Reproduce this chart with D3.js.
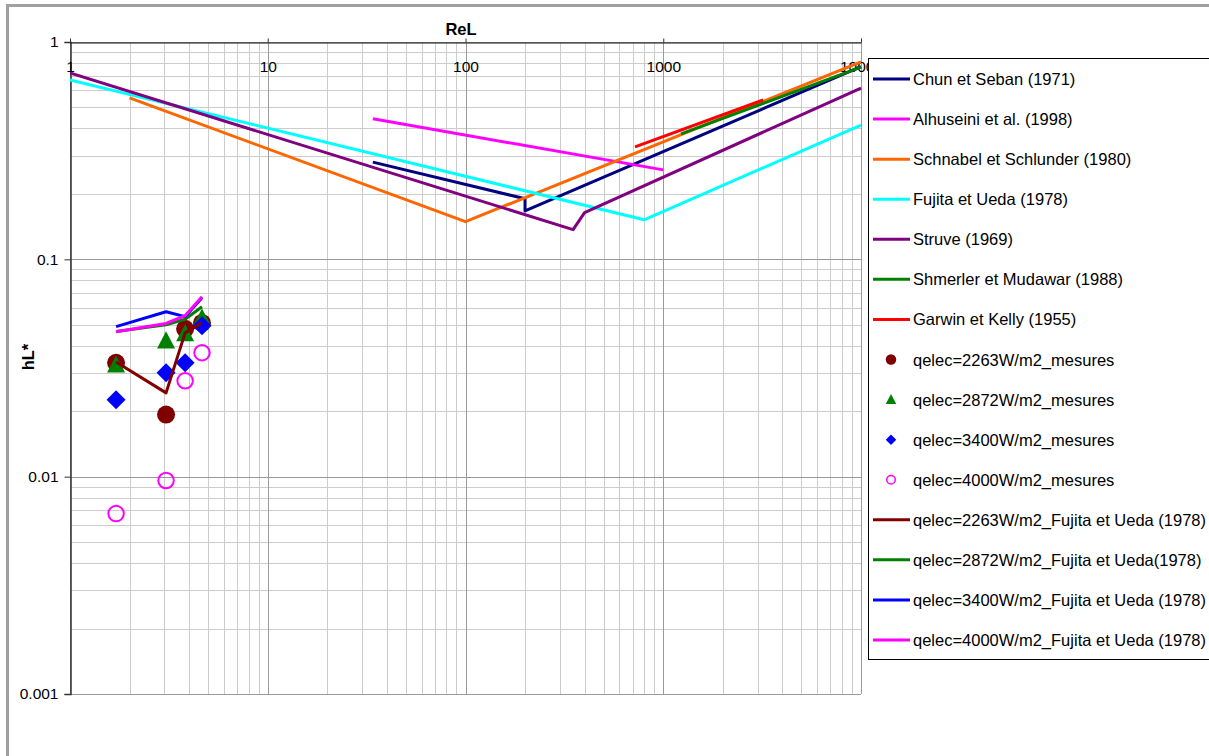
<!DOCTYPE html>
<html><head><meta charset="utf-8">
<script src="https://cdn.jsdelivr.net/npm/d3@7/dist/d3.min.js"></script>
<style>body{margin:0;background:#fff;}svg{display:block;font-family:"Liberation Sans",Arial,sans-serif;}</style>
</head><body>
<svg id="chart" width="1209" height="756"></svg>
<script>
// ---- data ----
const xTicks = [1, 10, 100, 1000, 10000];
const yTicks = [1, 0.1, 0.01, 0.001];
const yTickLabels = ["1", "0.1", "0.01", "0.001"];

const reChun = [34, 200, 200, 10000];
const hChun = [0.28, 0.19, 0.167, 0.77];
const reAlhuseini = [34, 1000];
const hAlhuseini = [0.443, 0.258];
const reSchnabel = [2, 100, 10000];
const hSchnabel = [0.553, 0.149, 0.81];
const reFujita = [1, 800, 10000];
const hFujita = [0.669, 0.152, 0.415];
const reStruve = [1, 350, 400, 10000];
const hStruve = [0.72, 0.137, 0.164, 0.614];
const reShmerler = [1230, 10000];
const hShmerler = [0.378, 0.767];
const reGarwin = [720, 3200];
const hGarwin = [0.329, 0.541];

const reMeas = [1.71, 3.06, 3.82, 4.65];
const m2263 = [0.0334, 0.0193, 0.0479, 0.051];
const m2872 = [0.0327, 0.0422, 0.0455, 0.0538];
const m3400 = [0.0226, 0.0301, 0.0334, 0.0495];
const m4000 = [0.00676, 0.0096, 0.0276, 0.0372];
const f2263 = [0.0337, 0.0243, 0.0459, 0.051];
const f2872 = [0.0466, 0.050, 0.053, 0.0605];
const f3400 = [0.049, 0.0574, 0.0545, 0.0665];
const f4000 = [0.0464, 0.0507, 0.055, 0.0673];

const seriesNames = [
  "Chun et Seban (1971)", "Alhuseini et al. (1998)", "Schnabel et Schlunder (1980)",
  "Fujita et Ueda (1978)", "Struve (1969)", "Shmerler et Mudawar (1988)", "Garwin et Kelly (1955)",
  "qelec=2263W/m2_mesures", "qelec=2872W/m2_mesures", "qelec=3400W/m2_mesures", "qelec=4000W/m2_mesures",
  "qelec=2263W/m2_Fujita et Ueda (1978)", "qelec=2872W/m2_Fujita et Ueda(1978)",
  "qelec=3400W/m2_Fujita et Ueda (1978)", "qelec=4000W/m2_Fujita et Ueda (1978)"
];

// ---- build series ----
const zip = (xs, ys) => xs.map((x, i) => [x, ys[i]]);
const series = [
  {type: "line", color: "#000080", pts: zip(reChun, hChun)},
  {type: "line", color: "#FF00FF", pts: zip(reAlhuseini, hAlhuseini)},
  {type: "line", color: "#FF6600", pts: zip(reSchnabel, hSchnabel)},
  {type: "line", color: "#00FFFF", pts: zip(reFujita, hFujita)},
  {type: "line", color: "#800080", pts: zip(reStruve, hStruve)},
  {type: "line", color: "#008000", pts: zip(reShmerler, hShmerler)},
  {type: "line", color: "#FF0000", pts: zip(reGarwin, hGarwin)},
  {type: "circle", color: "#800000", pts: zip(reMeas, m2263)},
  {type: "triangle", color: "#008000", pts: zip(reMeas, m2872)},
  {type: "diamond", color: "#0000FF", pts: zip(reMeas, m3400)},
  {type: "open", color: "#FF00FF", pts: zip(reMeas, m4000)},
  {type: "line", color: "#800000", pts: zip(reMeas, f2263)},
  {type: "line", color: "#008000", pts: zip(reMeas, f2872)},
  {type: "line", color: "#0000FF", pts: zip(reMeas, f3400)},
  {type: "line", color: "#FF00FF", pts: zip(reMeas, f4000)}
];
series.forEach((s, i) => s.name = seriesNames[i]);

// ---- layout ----
const svg = d3.select("#chart");
const L = 70, R = 861, T = 42, B = 694;
const x = d3.scaleLog().domain([1, 10000]).range([L, R]);
const y = d3.scaleLog().domain([0.001, 1]).range([B, T]);

// outer frame
svg.append("rect").attr("x", 7.5).attr("y", 5.5).attr("width", 1260).attr("height", 800)
  .attr("fill", "#fff").attr("stroke", "#a0a0a0").attr("stroke-width", 3);

// gridlines
const g = svg.append("g");
const minorX = [], minorY = [];
for (let d = 1; d < 10000; d *= 10) for (let k = 2; k <= 9; k++) minorX.push(d * k);
for (let d = 0.001; d < 0.9; d *= 10) for (let k = 2; k <= 9; k++) minorY.push(d * k);
g.selectAll(".mx").data(minorX).join("line")
  .attr("x1", d => Math.round(x(d)) + 0.5).attr("x2", d => Math.round(x(d)) + 0.5)
  .attr("y1", T).attr("y2", B).attr("stroke", "#cccccc");
g.selectAll(".my").data(minorY).join("line")
  .attr("y1", d => Math.round(y(d)) + 0.5).attr("y2", d => Math.round(y(d)) + 0.5)
  .attr("x1", L).attr("x2", R).attr("stroke", "#cccccc");
g.selectAll(".Mx").data(xTicks).join("line")
  .attr("x1", d => Math.round(x(d)) + 0.5).attr("x2", d => Math.round(x(d)) + 0.5)
  .attr("y1", T).attr("y2", B).attr("stroke", "#9a9a9a");
g.selectAll(".My").data(yTicks).join("line")
  .attr("y1", d => Math.round(y(d)) + 0.5).attr("y2", d => Math.round(y(d)) + 0.5)
  .attr("x1", L).attr("x2", R).attr("stroke", "#9a9a9a");

// axes
const yAxis = d3.axisLeft(y).tickValues(yTicks).tickFormat((d, i) => yTickLabels[i]).tickSize(6).tickPadding(6);
const ya = svg.append("g").attr("transform", `translate(${L + 0.5},0)`).call(yAxis);
ya.select(".domain").attr("stroke", "#333").attr("stroke-width", 1.5);
ya.selectAll(".tick line").attr("stroke", "#333");
ya.selectAll("text").attr("font-size", 15.5).attr("font-family", "Liberation Sans, Arial").attr("fill", "#000");

const xAxis = d3.axisTop(x).tickValues(xTicks).tickFormat(d3.format("d")).tickSize(4).tickSizeOuter(0);
const xa = svg.append("g").attr("transform", `translate(0,${T + 0.5})`).call(xAxis);
xa.select(".domain").attr("stroke", "#111").attr("stroke-width", 1.2);
xa.selectAll(".tick line").attr("stroke", "#333");
xa.selectAll("text").attr("font-size", 15.5).attr("font-family", "Liberation Sans, Arial").attr("fill", "#000")
  .attr("y", 29.5).attr("dy", "0");

// clip
svg.append("clipPath").attr("id", "clip").append("rect")
  .attr("x", L).attr("y", T - 3).attr("width", R - L + 2).attr("height", B - T + 3);
const plot = svg.append("g").attr("clip-path", "url(#clip)");

const lineGen = d3.line().x(d => x(d[0])).y(d => y(d[1]));

// marker path builders (size = full width in px)
function markerPath(type, w) {
  const h = w / 2;
  if (type === "circle" || type === "open") {
    const p = d3.path(); p.arc(0, 0, h, 0, 2 * Math.PI); return p.toString();
  }
  if (type === "triangle") return `M0,${-h * 1.05}L${h},${h * 0.85}L${-h},${h * 0.85}Z`;
  if (type === "diamond") return `M0,${-h}L${h},0L0,${h}L${-h},0Z`;
}
const plotSize = {circle: 18, triangle: 18, diamond: 19, open: 15.5};
const legSize = {circle: 10.5, triangle: 10.5, diamond: 10.5, open: 8.5};

series.forEach(s => {
  if (s.type === "line") {
    plot.append("path").datum(s.pts).attr("d", lineGen)
      .attr("fill", "none").attr("stroke", s.color).attr("stroke-width", 3)
      .attr("stroke-linejoin", "round");
  } else {
    plot.append("g").selectAll("path").data(s.pts).join("path")
      .attr("d", markerPath(s.type, plotSize[s.type]))
      .attr("transform", d => `translate(${x(d[0])},${y(d[1])})`)
      .attr("fill", s.type === "open" ? "none" : s.color)
      .attr("stroke", s.type === "open" ? s.color : "none")
      .attr("stroke-width", 2);
  }
});

// axis titles
svg.append("text").attr("x", 461).attr("y", 28.5).attr("text-anchor", "middle")
  .attr("dominant-baseline", "central").attr("font-weight", "bold").attr("font-size", 16.5).text("ReL");
svg.append("text").attr("transform", "translate(28,357) rotate(-90)").attr("text-anchor", "middle")
  .attr("dominant-baseline", "central").attr("font-weight", "bold").attr("font-size", 16.5).text("hL*");

// legend
const lg = svg.append("g");
lg.append("rect").attr("x", 868.5).attr("y", 58.5).attr("width", 400).attr("height", 601)
  .attr("fill", "#fff").attr("stroke", "#000").attr("stroke-width", 1);
const rowY = d3.scalePoint().domain(d3.range(series.length)).range([79, 640]);
series.forEach((s, i) => {
  const cy = rowY(i);
  if (s.type === "line") {
    lg.append("line").attr("x1", 873).attr("x2", 910).attr("y1", cy).attr("y2", cy)
      .attr("stroke", s.color).attr("stroke-width", 3);
  } else {
    lg.append("path").attr("d", markerPath(s.type, legSize[s.type]))
      .attr("transform", `translate(891,${cy})`)
      .attr("fill", s.type === "open" ? "none" : s.color)
      .attr("stroke", s.type === "open" ? s.color : "none").attr("stroke-width", 1.5);
  }
  lg.append("text").attr("x", 913).attr("y", cy).attr("dominant-baseline", "central")
    .attr("font-size", 16.5).attr("fill", "#000").text(s.name);
});
</script>
</body></html>
